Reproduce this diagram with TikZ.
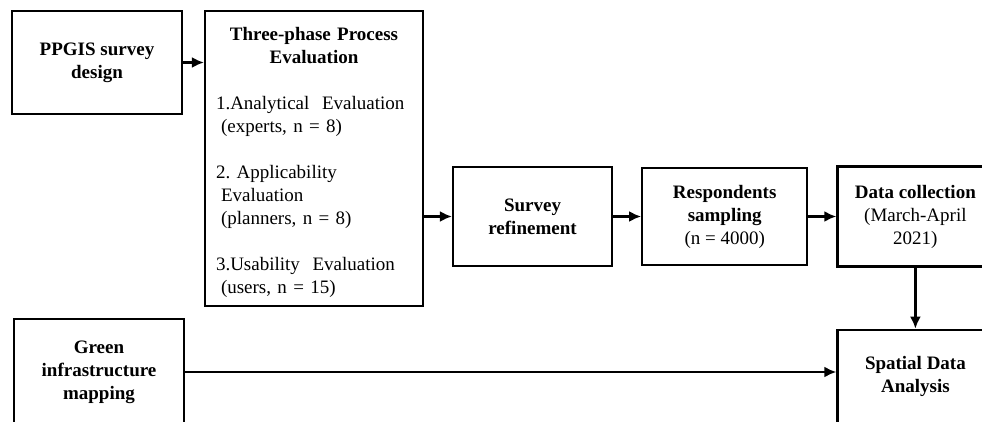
\documentclass[tikz,border=0pt]{standalone}
\usepackage{fontspec}
\setmainfont{Liberation Serif}
\usetikzlibrary{positioning,
                arrows.meta}
\frenchspacing

\begin{document}
\begin{tikzpicture}[x=1pt, y=-1pt,
    box/.style={draw, line width=2.2pt, align=center, inner sep=3pt,
                font=\fontsize{19}{23}\selectfont},
    boldbox/.style={box, font=\fontsize{19}{23}\selectfont\bfseries},
    arr/.style={-{Latex[length=12pt,width=11pt]}, line width=2.2pt}]
    \useasboundingbox (0,0) rectangle (982,422);

    % Entwurf und Evaluation
    \node[boldbox, minimum width=170pt, minimum height=103pt] (ppgis) at (97,62.5) {PPGIS survey\\design};
    \node[box, align=left, inner xsep=10pt, text width=196pt,
          minimum width=218pt, minimum height=295pt] (eval) at (314,158.5) {%
        {\centering\bfseries\rule{0pt}{22pt}Three-phase Process\\Evaluation\par}
        \raggedright
        \vspace{23pt}
        1.Analytical\ \ Evaluation\\
        \hspace*{5pt}(experts, n = 8)\par
        \vspace{23pt}
        2. Applicability\\
        \hspace*{5pt}Evaluation\\
        \hspace*{5pt}(planners, n = 8)\par
        \vspace{23pt}
        3.Usability\ \ Evaluation\\
        \hspace*{5pt}(users, n = 15)};

    % Umfrage
    \node[boldbox, minimum width=159pt, minimum height=99pt] (survey) at (532.5,216.5) {Survey\\refinement};
    \node[box, minimum width=165pt, minimum height=97pt, right=28pt of survey] (resp) {\textbf{Respondents}\\\textbf{sampling}\\(n = 4000)};
    \node[box, minimum width=156pt, minimum height=100pt, right=28pt of resp] (data) {\textbf{Data collection}\\(March-April\\2021)};

    % Analyse
    \node[boldbox, minimum width=156pt, minimum height=93pt, below=61pt of data] (spatial) {Spatial Data\\Analysis};
    \node[boldbox, minimum width=170pt, minimum height=106pt] (green) at (99,372) {Green\\infrastructure\\mapping};

    % Pfeile
    \draw[arr] (ppgis.east) -- (ppgis.east -| eval.west);
    \draw[arr] (eval.east |- survey.west) -- (survey.west);
    \draw[arr] (survey) -- (resp);
    \draw[arr] (resp) -- (data);
    \draw[arr] (data) -- (spatial);
    \draw[arr] (green.east) -- (green.east -| spatial.west);
\end{tikzpicture}
\end{document}
